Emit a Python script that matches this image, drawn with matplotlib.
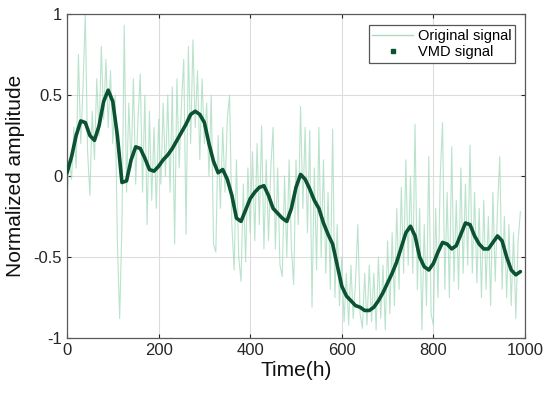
import numpy as np
import matplotlib
matplotlib.use("Agg")
import matplotlib.pyplot as plt
from matplotlib.lines import Line2D

plt.rcParams['font.family'] = ['Liberation Sans', 'DejaVu Sans']

orig_time = np.arange(0, 995, 5)
orig_signal = [
    -0.15, 0.10, -0.02, 0.30, 0.05, 0.75, 0.20, 0.55, 1.00, 0.15,
    -0.12, 0.40, 0.10, 0.60, 0.25, 0.80, 0.35, 0.72, 0.30, 0.65,
    0.20, 0.50, -0.40, -0.88, -0.30, 0.93, -0.10, 0.45, 0.05, 0.60,
    -0.05, 0.35, 0.63, -0.10, 0.50, -0.30, 0.40, -0.15, 0.30, -0.20,
    0.35, -0.05, 0.45, 0.00, 0.50, -0.10, 0.55, -0.42, 0.60, 0.05,
    0.45, 0.72, -0.36, 0.80, 0.20, 0.84, 0.30, 0.65, 0.10, 0.60,
    0.20, 0.45, 0.00, 0.50, -0.42, -0.47, 0.25, -0.20, 0.30, -0.10,
    0.35, 0.50, -0.30, -0.58, 0.10, -0.50, -0.65, -0.05, -0.53, 0.05,
    -0.35, 0.15, -0.40, 0.20, -0.30, 0.31, -0.45, 0.10, -0.40, 0.05,
    0.30, -0.45, 0.05, -0.55, -0.62, 0.00, -0.50, 0.10, -0.45, -0.67,
    0.10, -0.30, 0.43, -0.20, 0.30, -0.35, 0.28, -0.81, 0.05, -0.58,
    0.30, -0.50, 0.10, -0.60, -0.10, -0.70, 0.29, -0.75, -0.30, -0.80,
    -0.50, -0.90, -0.60, -0.92, -0.55, -0.88, -0.65, -0.30, -0.85, -0.94,
    -0.60, -0.92, -0.55, -0.90, -0.60, -0.95, -0.50, -0.88, -0.55, -0.95,
    -0.40, -0.85, -0.35, -0.80, -0.20, -0.70, -0.07, -0.60, 0.10, -0.55,
    0.00, -0.60, 0.32, -0.70, -0.20, -0.95, -0.30, -0.80, 0.12, -0.85,
    -0.92, -0.20, -0.75, 0.00, 0.33, -0.70, -0.10, -0.75, 0.18, -0.65,
    -0.15, -0.70, 0.05, -0.60, -0.05, -0.55, 0.19, -0.60, -0.10, -0.66,
    -0.20, -0.75, -0.15, -0.70, -0.25, -0.80, -0.10, -0.65, -0.20, 0.12,
    -0.70, -0.25, -0.75, -0.30, -0.80, -0.35, -0.88, -0.40, -0.22,
]

# VMD signal sampled every 10 h
vmd_time = np.arange(0, 1000, 10)
vmd_signal = [
    0.02, 0.12, 0.25, 0.34, 0.33, 0.25, 0.22, 0.31, 0.46, 0.53,
    0.46, 0.25, -0.04, -0.03, 0.10, 0.18, 0.17, 0.11, 0.04, 0.03,
    0.06, 0.10, 0.13, 0.17, 0.22, 0.27, 0.32, 0.38, 0.40, 0.38,
    0.33, 0.20, 0.09, 0.02, 0.04, -0.02, -0.12, -0.26, -0.28, -0.21,
    -0.14, -0.10, -0.07, -0.06, -0.12, -0.20, -0.23, -0.26, -0.28, -0.20,
    -0.07, 0.01, -0.02, -0.08, -0.15, -0.20, -0.29, -0.36, -0.42, -0.55,
    -0.68, -0.74, -0.77, -0.80, -0.81, -0.83, -0.83, -0.81, -0.77, -0.72,
    -0.66, -0.60, -0.53, -0.44, -0.35, -0.31, -0.37, -0.50, -0.56, -0.58,
    -0.54, -0.47, -0.41, -0.42, -0.45, -0.43, -0.36, -0.29, -0.30, -0.37,
    -0.42, -0.45, -0.45, -0.41, -0.37, -0.40, -0.50, -0.58, -0.61, -0.59,
]

fig = plt.figure(figsize=(5.5, 3.94), dpi=100)
ax = fig.add_axes([0.1218, 0.1421, 0.8327, 0.8223])

orig_color = '#a8dcc0'
vmd_color = '#0b5232'

ax.plot(orig_time, orig_signal, color=orig_color, lw=0.8, alpha=0.8, zorder=2)
ax.plot(vmd_time, vmd_signal, color=vmd_color, lw=2.6, zorder=3,
        solid_joinstyle='round', solid_capstyle='round')

ax.set_xlim(0, 1000)
ax.set_ylim(-1, 1)
ax.set_xticks([0, 200, 400, 600, 800, 1000])
ax.set_yticks([-1, -0.5, 0, 0.5, 1])
ax.set_yticklabels(['-1', '-0.5', '0', '0.5', '1'])
ax.grid(True, color='#dcdcdc', lw=0.8)
ax.set_axisbelow(True)

ax.tick_params(direction='in', top=True, right=True, length=3,
               labelsize=12, colors='#262626', width=0.8)
for s in ax.spines.values():
    s.set_color('#5a5a5a')
    s.set_linewidth(0.9)

ax.set_xlabel('Time(h)', fontsize=15, color='#111111', labelpad=2)
ax.set_ylabel('Normalized amplitude', fontsize=15, color='#111111', labelpad=6)

handles = [
    Line2D([], [], color=orig_color, lw=1.0),
    Line2D([], [], color=vmd_color, lw=0, marker='s', ms=2.2),
]
leg = ax.legend(handles, ['Original signal', 'VMD signal'], loc='upper right',
                bbox_to_anchor=(0.978, 0.966), borderaxespad=0, fontsize=10.5,
                fancybox=False, framealpha=1, edgecolor='#555555',
                handlelength=2.8, handletextpad=0.3, borderpad=0.25,
                labelspacing=0.15)
leg.get_frame().set_linewidth(0.9)

fig.savefig('out.png', dpi=100)
